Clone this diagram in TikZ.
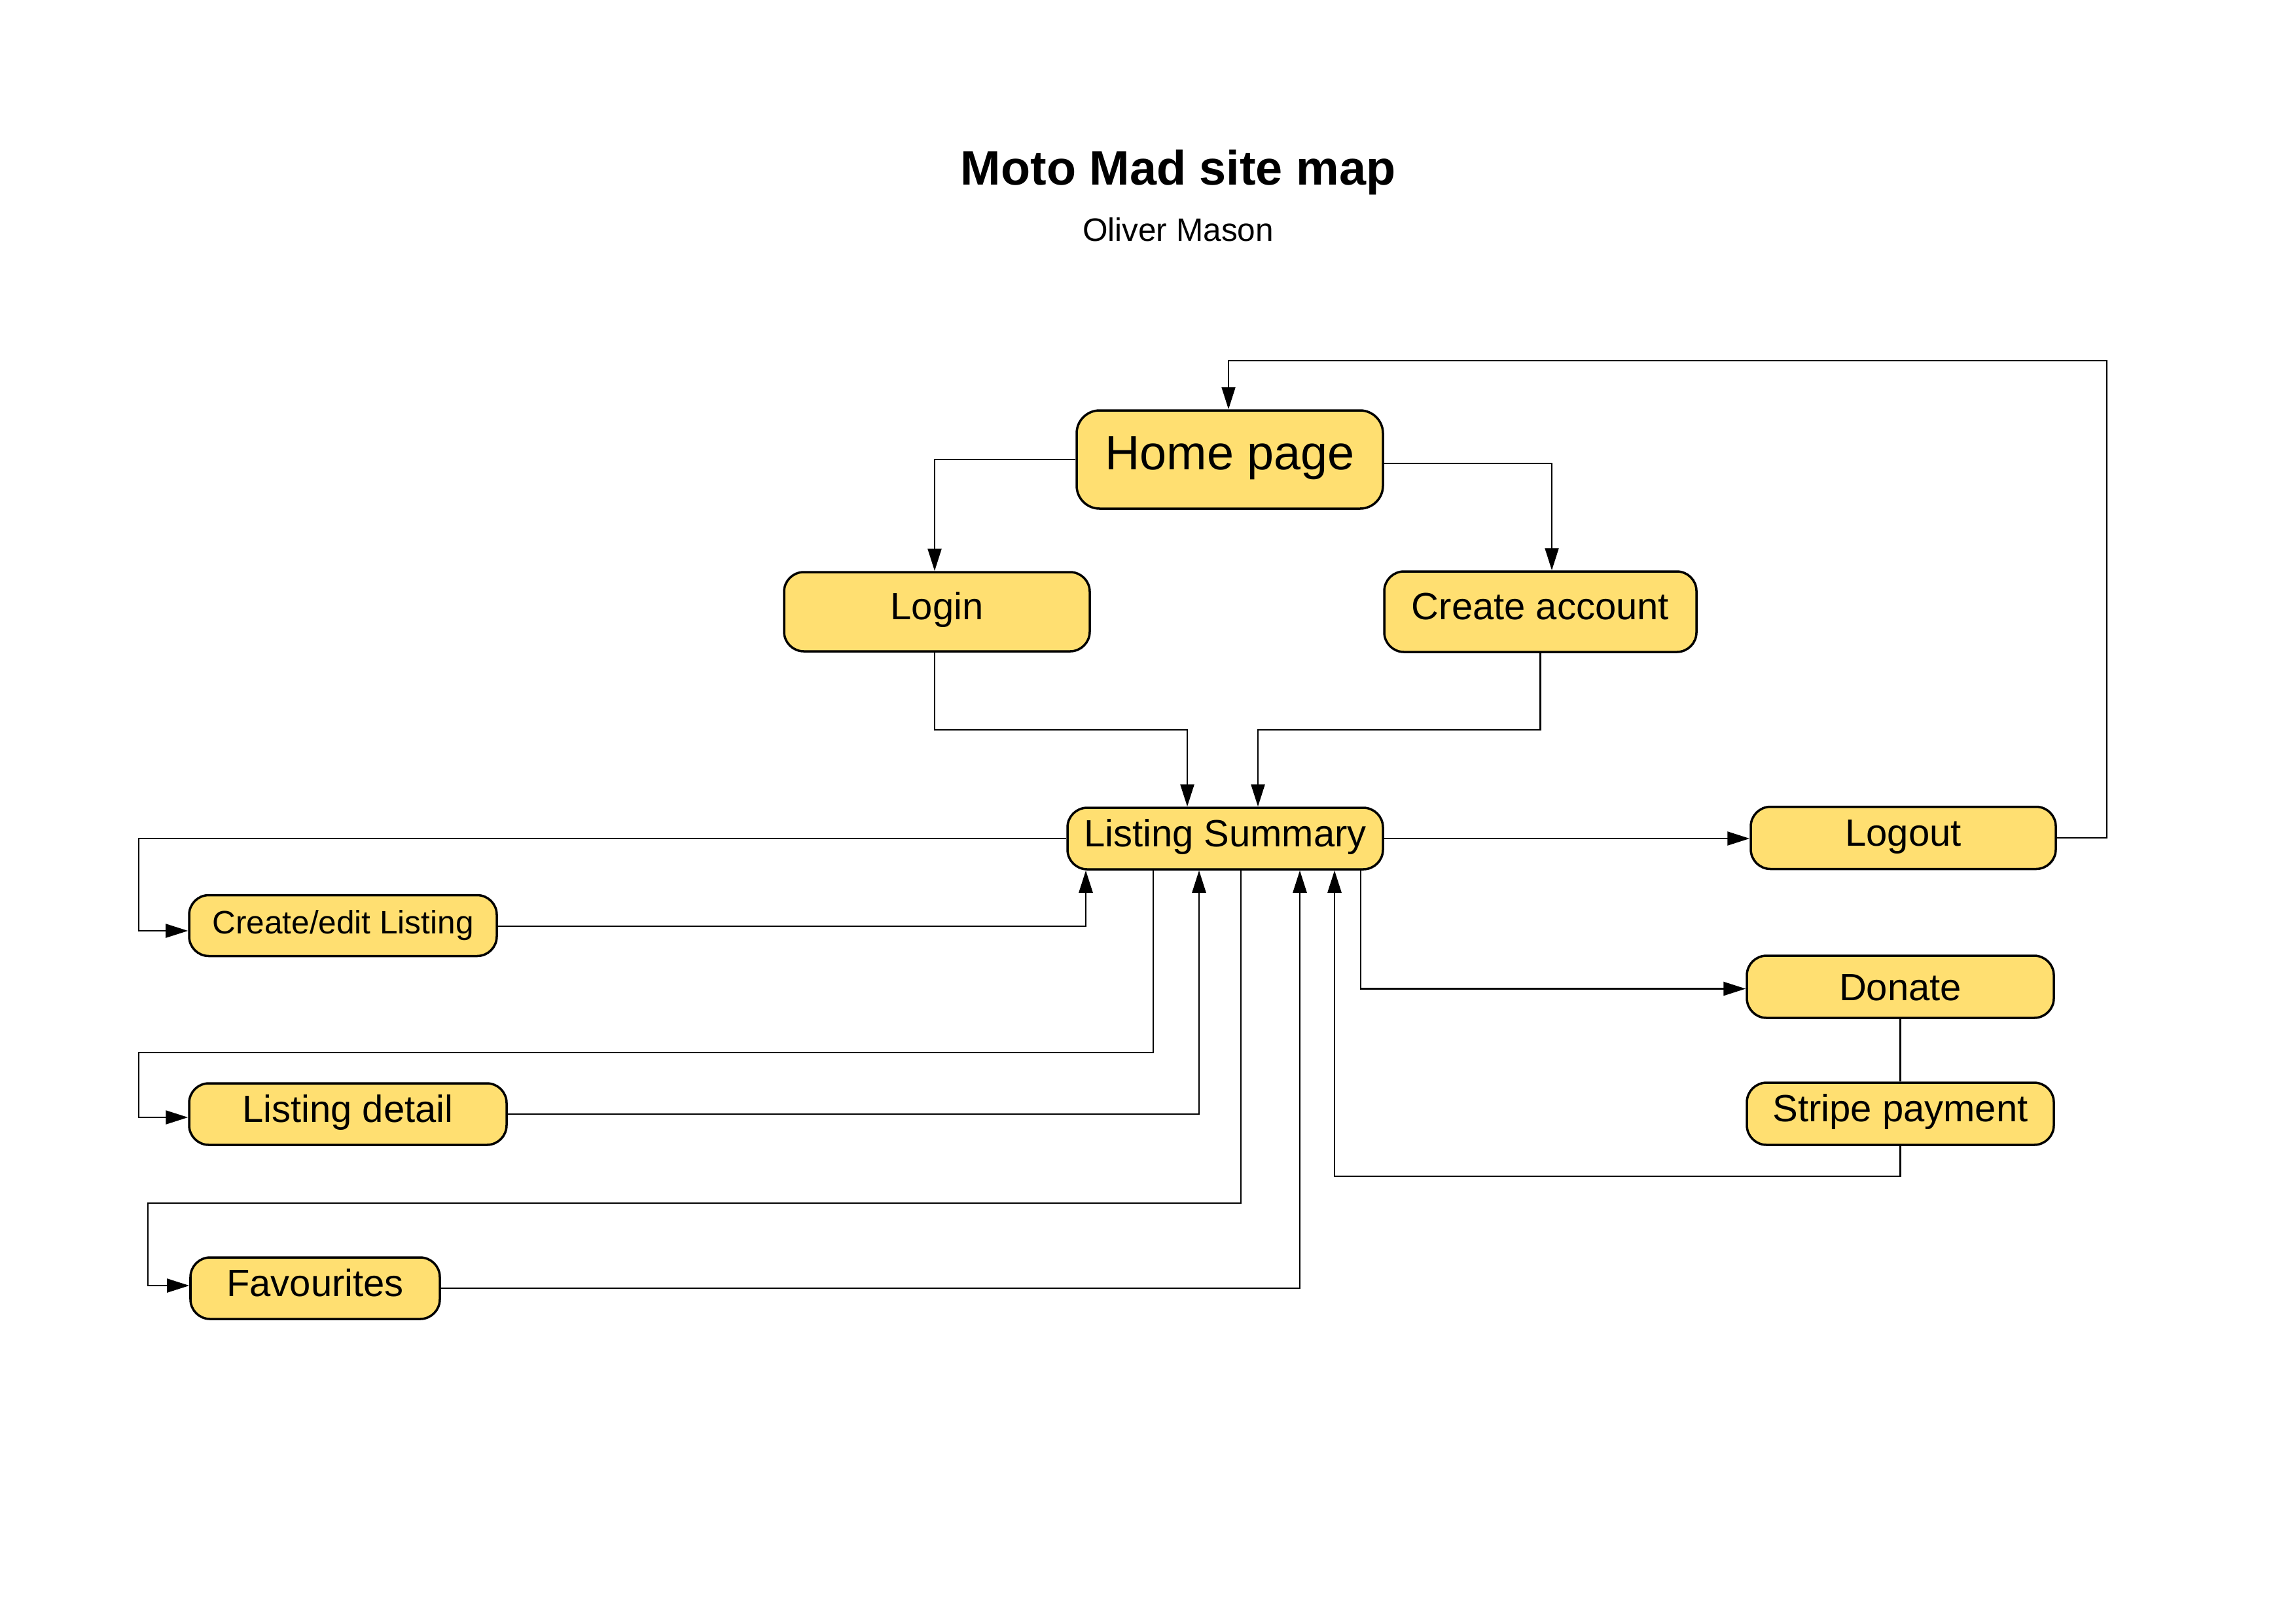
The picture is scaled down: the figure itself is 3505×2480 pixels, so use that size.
\documentclass[tikz,border=0pt]{standalone}
\usepackage{fontspec}
\setmainfont{Liberation Sans}
\usetikzlibrary{arrows.meta,calc}
\definecolor{boxfill}{HTML}{FFDF71}
\begin{document}
\begin{tikzpicture}[x=0.1mm,y=-0.1mm,
  pg/.style={draw=black, line width=1pt, fill=boxfill, rounded corners=3mm, inner sep=0pt,
    font=\fontsize{16.5}{18}\selectfont, text height=11.8pt, text depth=1.7mm, minimum height=9.4mm},
  bigpg/.style={pg, font=\fontsize{21}{24}\selectfont, text height=15pt, text depth=2.2mm, rounded corners=3.5mm},
  smallpg/.style={pg, font=\fontsize{14.1}{16}\selectfont, text height=10.1pt, text depth=1mm},
  link/.style={line width=0.7pt, draw=black},
  arr/.style={link, -{Triangle[length=3.4mm,width=2.1mm]}}]
\useasboundingbox (0,0) rectangle (3505,2480);

\node[font=\fontsize{21}{24}\selectfont\bfseries, anchor=base] (title) at (1800,282) {Moto Mad site map};
\node[font=\fontsize{14.1}{16}\selectfont, anchor=base] (author) at (1800,368) {Oliver Mason};

\node[bigpg, minimum width=46.8mm, minimum height=15mm] (home) at (1879,702) {Home page};
\node[pg, minimum width=46.7mm, minimum height=12.1mm] (login) at (1431.5,934.5) {Login};
\node[pg, minimum width=47.7mm, minimum height=12.3mm] (create) at (2353.5,934.5) {Create account};
\node[pg, minimum width=48.2mm] (ls) at (1872,1281) {Listing Summary};
\node[pg, minimum width=46.6mm, minimum height=9.5mm] (logout) at (2908,1280) {Logout};
\node[pg, minimum width=46.9mm, minimum height=9.5mm, text depth=0pt] (donate) at (2903.5,1507.5) {Donate};
\node[pg, minimum width=46.9mm, minimum height=9.5mm] (stripe) at (2903.5,1701.5) {Stripe payment};
\node[smallpg, minimum width=47mm, minimum height=9.3mm] (cel) at (524,1414) {Create/edit Listing};
\node[pg, minimum width=48.5mm] (ld) at (531.5,1702) {Listing detail};
\node[pg, minimum width=38.1mm] (fav) at (481.5,1968) {Favourites};

\coordinate (tr) at (3219,551);
\coordinate (b7) at (212,1422);
\coordinate (b9) at (212,1608);
\coordinate (b11) at (226,1838);

\draw[arr] (home.west) -| ($(login.north)+(-3.5,0)$);
\draw[arr] ($(home.east)+(0,6)$) -| ($(create.north)+(17.5,0)$);
\draw[arr] ($(login.south)+(-3.5,0)$) -- ++(0,118) -| ($(ls.north)+(-58,0)$);
\draw[arr] (create.south) -- ++(0,117) -| ($(ls.north)+(50,0)$);
\draw[arr] (ls.east) -- (ls.east -| logout.west);
\draw[arr] (logout.east) -| (tr) -| ($(home.north)+(-2,0)$);
\draw[arr] (ls.west) -| (b7) -- (b7 -| cel.west);
\draw[arr] ($(cel.east)+(0,1)$) -| ($(ls.south)+(-213,0)$);
\draw[arr] ($(ls.south)+(-110,0)$) |- (b9) |- ($(ld.west)+(0,5)$);
\draw[arr] (ld.east) -| ($(ls.south)+(-40,0)$);
\draw[arr] ($(ls.south)+(24,0)$) |- (b11) |- ($(fav.west)+(0,-4)$);
\draw[arr] (fav.east) -| ($(ls.south)+(114,0)$);
\draw[arr] (stripe.south) -- ++(0,46) -| ($(ls.south)+(167,0)$);
\draw[arr] ($(ls.south)+(207,0)$) |- ($(donate.west)+(0,3)$);
\draw[link] (donate.south) -- (stripe.north);
\end{tikzpicture}
\end{document}
